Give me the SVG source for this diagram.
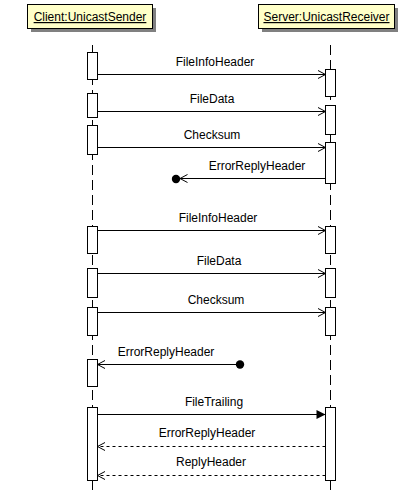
<svg xmlns="http://www.w3.org/2000/svg" width="413" height="492" viewBox="0 0 413 492">
<style>
text{font-family:"Liberation Sans",Arial,sans-serif;font-size:12px;fill:#000}
.lbl{text-anchor:middle}
.hdr{fill:#FFFFC8;stroke:#000;stroke-width:1}
.shd{fill:#808080}
.life{stroke:#000;stroke-width:1;stroke-dasharray:10,5;fill:none}
.act{fill:#fff;stroke:#000;stroke-width:1}
.msg{stroke:#000;stroke-width:1;fill:none}
.ret{stroke:#000;stroke-width:1;fill:none;stroke-dasharray:3,3}
</style>
<defs>
<marker id="open" markerUnits="userSpaceOnUse" markerWidth="10" markerHeight="10" refX="8" refY="4.5" orient="auto" overflow="visible">
<path d="M0.5,0.5 L8,4.5 L0.5,8.5" fill="none" stroke="#000" stroke-width="1"/>
</marker>
<marker id="filled" markerUnits="userSpaceOnUse" markerWidth="10" markerHeight="10" refX="9" refY="4.5" orient="auto" overflow="visible">
<path d="M0,0 L9,4.5 L0,9 Z" fill="#000"/>
</marker>
</defs>
<rect width="413" height="492" fill="#fff"/>
<g id="lifelines">
<line class="life" x1="92.5" y1="45" x2="92.5" y2="492"/>
<line class="life" x1="330.5" y1="45" x2="330.5" y2="492"/>
</g>
<g id="client">
<rect class="shd" x="31" y="8" width="125" height="24"/>
<rect class="hdr" x="27.5" y="4.5" width="125" height="24"/>
<text class="lbl" x="90" y="21" text-decoration="underline">Client:UnicastSender</text>
</g>
<g id="server">
<rect class="shd" x="262" y="8" width="136" height="24"/>
<rect class="hdr" x="258.5" y="4.5" width="136" height="24"/>
<text class="lbl" x="326.5" y="21" text-decoration="underline">Server:UnicastReceiver</text>
</g>
<g id="client-activations">
<rect class="act" x="87.5" y="52.5" width="10" height="27"/>
<rect class="act" x="87.5" y="93.5" width="10" height="24"/>
<rect class="act" x="87.5" y="125.5" width="10" height="29"/>
<rect class="act" x="87.5" y="226.5" width="10" height="27"/>
<rect class="act" x="87.5" y="268.5" width="10" height="29"/>
<rect class="act" x="87.5" y="307.5" width="10" height="28"/>
<rect class="act" x="87.5" y="359.5" width="10" height="27"/>
<rect class="act" x="87.5" y="407.5" width="10" height="73"/>
</g>
<g id="server-activations">
<rect class="act" x="325.5" y="69.5" width="10" height="27"/>
<rect class="act" x="325.5" y="105.5" width="10" height="29"/>
<rect class="act" x="325.5" y="142.5" width="10" height="41"/>
<rect class="act" x="325.5" y="226.5" width="10" height="27"/>
<rect class="act" x="325.5" y="268.5" width="10" height="29"/>
<rect class="act" x="325.5" y="307.5" width="10" height="28"/>
<rect class="act" x="325.5" y="407.5" width="10" height="73"/>
</g>
<g id="connectors">
<line class="msg" x1="97.5" y1="74.5" x2="325.5" y2="74.5" marker-end="url(#open)"/>
<line class="msg" x1="97.5" y1="111.5" x2="325.5" y2="111.5" marker-end="url(#open)"/>
<line class="msg" x1="97.5" y1="147.5" x2="325.5" y2="147.5" marker-end="url(#open)"/>
<line class="msg" x1="325.5" y1="178.5" x2="180" y2="178.5" marker-end="url(#open)"/>
<circle cx="176" cy="179" r="4.2" fill="#000"/>
<line class="msg" x1="97.5" y1="230.5" x2="325.5" y2="230.5" marker-end="url(#open)"/>
<line class="msg" x1="97.5" y1="273.5" x2="325.5" y2="273.5" marker-end="url(#open)"/>
<line class="msg" x1="97.5" y1="312.5" x2="325.5" y2="312.5" marker-end="url(#open)"/>
<line class="msg" x1="240" y1="364.5" x2="97.5" y2="364.5" marker-end="url(#open)"/>
<circle cx="240" cy="364.5" r="4.2" fill="#000"/>
<line class="msg" x1="97.5" y1="414.5" x2="325.5" y2="414.5" marker-end="url(#filled)"/>
<line class="ret" x1="325.5" y1="446.5" x2="97.5" y2="446.5" marker-end="url(#open)"/>
<line class="ret" x1="325.5" y1="475.5" x2="97.5" y2="475.5" marker-end="url(#open)"/>
</g>
<g id="labels">
<text class="lbl" x="215" y="66">FileInfoHeader</text>
<text class="lbl" x="212" y="103">FileData</text>
<text class="lbl" x="212" y="139">Checksum</text>
<text class="lbl" x="257" y="170">ErrorReplyHeader</text>
<text class="lbl" x="218" y="222">FileInfoHeader</text>
<text class="lbl" x="219" y="265">FileData</text>
<text class="lbl" x="216" y="304">Checksum</text>
<text class="lbl" x="166" y="356">ErrorReplyHeader</text>
<text class="lbl" x="214" y="406">FileTrailing</text>
<text class="lbl" x="207" y="437">ErrorReplyHeader</text>
<text class="lbl" x="211" y="466">ReplyHeader</text>
</g>
</svg>
